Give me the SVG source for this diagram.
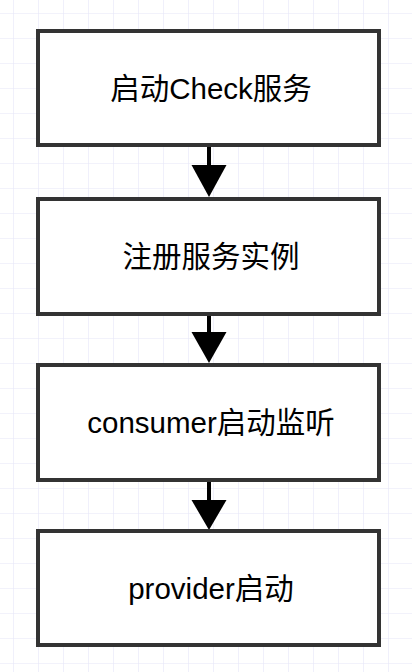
<svg xmlns="http://www.w3.org/2000/svg" width="412" height="672" viewBox="0 0 412 672">
  <style>
    .box { fill: #ffffff; stroke: #333333; stroke-width: 4; }
    .lbl { font-family: "Liberation Sans", "Noto Sans CJK SC", sans-serif; font-size: 29.5px; fill: #000000; text-anchor: middle; }
    .conn { stroke: #000000; stroke-width: 4; fill: none; }
    .head { fill: #000000; stroke: none; }
  </style>
  <defs>
    <pattern id="grid" x="13" y="13" width="25" height="25" patternUnits="userSpaceOnUse">
      <path d="M0 0 H25 M0 0 V25" stroke="#e6e6f8" stroke-width="1.2" fill="none"/>
    </pattern>
  </defs>
  <rect x="0" y="0" width="412" height="672" fill="#ffffff"/>
  <rect x="0" y="0" width="412" height="672" fill="url(#grid)"/>

  <g id="connectors">
    <line class="conn" x1="209" y1="147" x2="209" y2="168"/>
    <polygon class="head" points="191.5,165 226.5,165 209,197"/>
    <line class="conn" x1="209" y1="316" x2="209" y2="335"/>
    <polygon class="head" points="191.5,332 226.5,332 209,363"/>
    <line class="conn" x1="209" y1="482" x2="209" y2="503"/>
    <polygon class="head" points="191.5,500 226.5,500 209,530"/>
  </g>

  <g id="node1">
    <rect class="box" x="38" y="31" width="341" height="114"/>
    <text class="lbl" x="211" y="99">启动Check服务</text>
  </g>
  <g id="node2">
    <rect class="box" x="38" y="199" width="341" height="115"/>
    <text class="lbl" x="211" y="267">注册服务实例</text>
  </g>
  <g id="node3">
    <rect class="box" x="38" y="365" width="341" height="115"/>
    <text class="lbl" x="211" y="433">consumer启动监听</text>
  </g>
  <g id="node4">
    <rect class="box" x="38" y="531" width="341" height="114"/>
    <text class="lbl" x="211" y="599">provider启动</text>
  </g>
</svg>
